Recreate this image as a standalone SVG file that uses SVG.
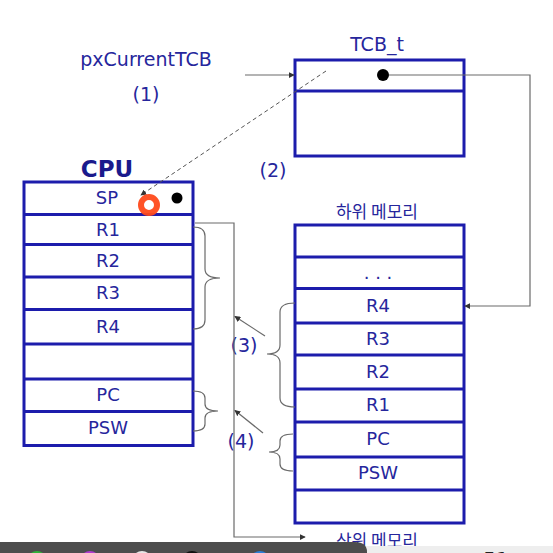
<svg xmlns="http://www.w3.org/2000/svg" width="553" height="553" viewBox="0 0 553 553">
<defs>
<style>
.box{fill:#fff;stroke:#1c1cac;stroke-width:3}
.div{stroke:#1c1cac;stroke-width:3}
.t{font-family:"DejaVu Sans","Liberation Sans",sans-serif;fill:#26269c;text-anchor:middle}
.r{font-size:18px}
.k{font-family:"Noto Sans CJK KR","DejaVu Sans",sans-serif;fill:#26269c;text-anchor:middle;font-size:17px}
.c{fill:none;stroke:#6a6a6a;stroke-width:1.2}
</style>
<marker id="ah" viewBox="0 0 8 8" refX="7" refY="4" markerWidth="6" markerHeight="6" orient="auto" markerUnits="userSpaceOnUse">
<path d="M0,0 L8,4 L0,8 z" fill="#333"/>
</marker>
</defs>
<rect width="553" height="553" fill="#fff"/>

<g id="labels">
<text class="t" x="146" y="66" font-size="19">pxCurrentTCB</text>
<text class="t" x="146" y="101" font-size="19">(1)</text>
<text class="t" x="273" y="177" font-size="19">(2)</text>
<text class="t" x="244" y="352" font-size="19">(3)</text>
<text class="t" x="241" y="448" font-size="19">(4)</text>
<text class="t" x="377" y="51" font-size="19">TCB_t</text>
<text x="107" y="177" font-family="DejaVu Sans,Liberation Sans,sans-serif" font-weight="bold" font-size="23" fill="#1a1a8c" text-anchor="middle">CPU</text>
<text class="k" x="377" y="218">하위 메모리</text>
</g>

<g id="tcb">
<rect class="box" x="295" y="60" width="169" height="96"/>
<line class="div" x1="295" y1="91" x2="464" y2="91"/>
<circle cx="383" cy="75" r="6" fill="#000"/>
</g>

<g id="cpu">
<rect class="box" x="24" y="182" width="169" height="263.5"/>
<line class="div" x1="24" y1="214.5" x2="193" y2="214.5"/>
<line class="div" x1="24" y1="244.5" x2="193" y2="244.5"/>
<line class="div" x1="24" y1="277" x2="193" y2="277"/>
<line class="div" x1="24" y1="309.5" x2="193" y2="309.5"/>
<line class="div" x1="24" y1="344" x2="193" y2="344"/>
<line class="div" x1="24" y1="379" x2="193" y2="379"/>
<line class="div" x1="24" y1="411.5" x2="193" y2="411.5"/>
<text class="t r" x="107" y="204">SP</text>
<text class="t r" x="108" y="236">R1</text>
<text class="t r" x="108" y="267">R2</text>
<text class="t r" x="108" y="299">R3</text>
<text class="t r" x="108" y="333">R4</text>
<text class="t r" x="108" y="401">PC</text>
<text class="t r" x="108" y="434">PSW</text>
<circle cx="177" cy="198" r="5.5" fill="#000"/>
</g>

<g id="memory">
<rect class="box" x="295" y="225" width="169" height="298"/>
<line class="div" x1="295" y1="257" x2="464" y2="257"/>
<line class="div" x1="295" y1="288.5" x2="464" y2="288.5"/>
<line class="div" x1="295" y1="323" x2="464" y2="323"/>
<line class="div" x1="295" y1="355" x2="464" y2="355"/>
<line class="div" x1="295" y1="389" x2="464" y2="389"/>
<line class="div" x1="295" y1="422" x2="464" y2="422"/>
<line class="div" x1="295" y1="457" x2="464" y2="457"/>
<line class="div" x1="295" y1="490" x2="464" y2="490"/>
<text class="t r" x="378" y="279">. . .</text>
<text class="t r" x="378" y="312">R4</text>
<text class="t r" x="378" y="345">R3</text>
<text class="t r" x="378" y="378">R2</text>
<text class="t r" x="378" y="411">R1</text>
<text class="t r" x="378" y="445">PC</text>
<text class="t r" x="378" y="479">PSW</text>
</g>

<g id="connectors">
<line class="c" x1="245" y1="75" x2="294" y2="75" marker-end="url(#ah)"/>
<line x1="326" y1="71" x2="141" y2="195" stroke="#555" stroke-width="1" stroke-dasharray="4,3" marker-end="url(#ah)"/>
<polyline class="c" points="389,75 530,75 530,306 465,306" marker-end="url(#ah)"/>
<path class="c" d="M193,227 Q205,227 205,236 L205,269 Q205,278 220,278 Q205,278 205,287 L205,320 Q205,329 193,329"/>
<path class="c" d="M193,391 Q205,391 205,398 L205,404 Q205,411 218,411 Q205,411 205,418 L205,424 Q205,431 193,431"/>
<polyline class="c" points="195,223 234,223 234,537 305,537" marker-end="url(#ah)"/>
<line class="c" x1="265" y1="336" x2="235" y2="316.5" marker-end="url(#ah)"/>
<line class="c" x1="263" y1="433" x2="235" y2="410.5" marker-end="url(#ah)"/>
<path class="c" d="M295,303 Q280,303 280,312 L280,345 Q280,354 267,354 Q280,354 280,363 L280,398 Q280,407 295,407"/>
<path class="c" d="M293,434 Q280,434 280,441 L280,445 Q280,452 269,452 Q280,452 280,459 L280,464 Q280,471 293,471"/>
</g>

<text class="k" x="377" y="547">상위 메모리</text>

<g id="overlay">
<circle cx="149" cy="205" r="8" fill="#fff" stroke="#ff4a1c" stroke-width="6" opacity="0.95"/>
<rect x="360" y="546" width="200" height="10" fill="#eeeeee"/>
<text x="496" y="566" font-family="DejaVu Sans,sans-serif" font-size="20" fill="#222" text-anchor="middle">51</text>
<path d="M0,542 L355,542 Q367,542 367,552 L367,553 L0,553 z" fill="#4d4d4d"/>
<circle cx="37" cy="561" r="10" fill="#2fb33a"/>
<circle cx="90" cy="561" r="10" fill="#b03ad0"/>
<circle cx="142" cy="561" r="10" fill="#e6e6e6"/>
<circle cx="192" cy="561" r="10" fill="#111"/>
<circle cx="260" cy="561" r="10" fill="#2a7ed8"/>
</g>
</svg>
